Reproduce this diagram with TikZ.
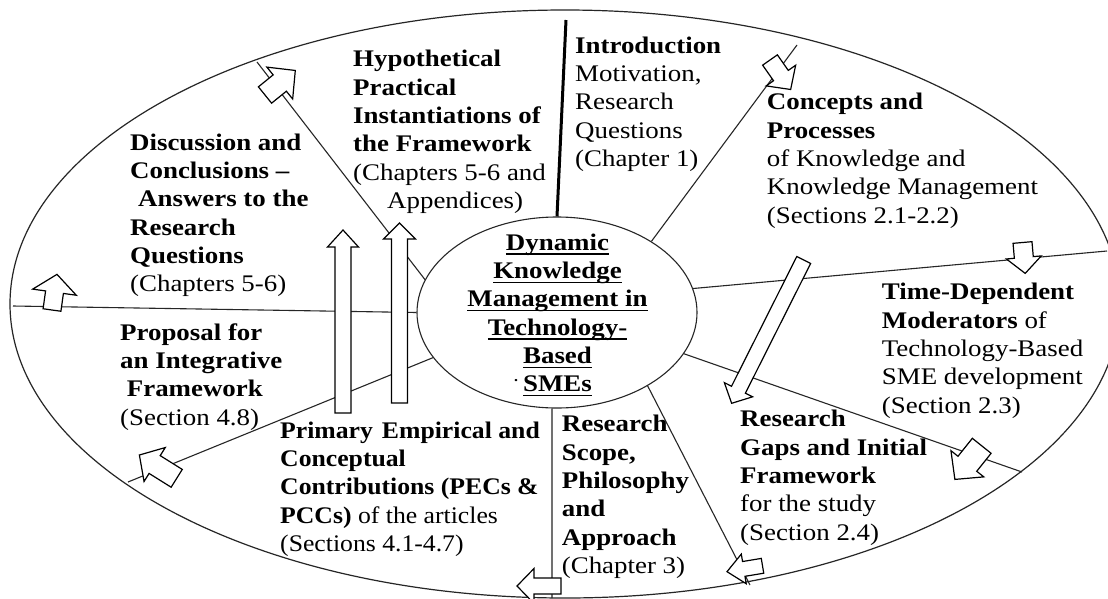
\documentclass[tikz,border=0pt]{standalone}
\usepackage{fontspec}
\setmainfont{Liberation Serif}[FakeStretch=1.13]
\usetikzlibrary{shapes.geometric}

% block arrow: tail point, direction, length, shaft width, head width, head length
\newcommand{\flowarrow}[6]{%
  \draw[flowtip, shift={#1}, rotate=#2]
    (0,-#4/2) -- ({#3-#6},-#4/2) -- ({#3-#6},-#5/2) -- (#3,0)
    -- ({#3-#6},#5/2) -- ({#3-#6},#4/2) -- (0,#4/2) -- cycle;}

% underlined word with a fixed rule below the baseline
\newcommand{\ulword}[1]{\setbox0\hbox{#1}\rlap{\rule[-4.5pt]{\wd0}{1.3pt}}\box0}

% text blocks are placed by the baseline of their last line
\tikzset{
  flowtip/.style={draw=black, fill=white, line width=1.2pt, line join=miter},
  spoke/.style={draw=black!85, line width=1.1pt},
  txt/.style={font=\fontsize{23.8}{28.33}\selectfont, align=left, anchor=base west,
              inner sep=0pt, text=black},
}

\begin{document}
\begin{tikzpicture}[x=1pt, y=-1pt]
  \fill[white] (0,0) rectangle (1108,598);
  \useasboundingbox (0,0) rectangle (1108,598);

  % outer cycle and central topic
  \node[draw=black!85, ellipse, line width=1.2pt, minimum width=1110pt,
        minimum height=588pt, inner sep=0pt] (rim) at (565,304) {};
  \node[draw=black!85, ellipse, line width=1.1pt, minimum width=280pt,
        minimum height=191pt, inner sep=0pt] (core) at (557,312.5) {};

  % outer ends of the spokes
  \coordinate (e0) at (566,20);
  \coordinate (e1) at (797,45);
  \coordinate (e2) at (1107,251);
  \coordinate (e3) at (1022,472);
  \coordinate (e4) at (750,585);
  \coordinate (e5) at (552,598);
  \coordinate (e6) at (128,482);
  \coordinate (e7) at (13,306);
  \coordinate (e8) at (257,62);

  % spokes dividing the sectors
  \draw[black, line width=3pt] (core.north) -- (e0);
  \draw[spoke] (core.37)   -- (e1);
  \draw[spoke] (core.10.7) -- (e2);
  \draw[spoke] (core.-18)  -- (e3);
  \draw[spoke] (core.-39)  -- (e4);
  \draw[spoke] (core.-93)  -- (e5);
  \draw[spoke] (core.200)  -- (e6);
  \draw[spoke] (core.180)  -- (e7);
  \draw[spoke] (core.166)  -- (e8);

  % clockwise flow arrows on the spokes
  \flowarrow{(770,60)}{-55}{36}{18}{36}{17}
  \flowarrow{(1022.5,242.5)}{-85}{31}{19}{35}{16}
  \flowarrow{(981.7,445.8)}{-128.6}{43}{24}{42}{20}
  \flowarrow{(762.5,565.8)}{-170.6}{36}{15}{30}{17}
  \flowarrow{(561,586)}{180}{44}{16}{35}{17}
  \flowarrow{(176.7,478.3)}{148}{44}{21}{40}{18}
  \flowarrow{(52,310)}{82}{36}{18}{44}{18}
  \flowarrow{(265,95)}{39}{39}{21}{41}{20}

  % long arrows
  \flowarrow{(343,413)}{90}{183}{16}{31}{17}
  \flowarrow{(399.5,403)}{90}{180}{16}{32}{16}
  \flowarrow{(803.7,260)}{-116.7}{160.4}{15.5}{31.6}{15.2}

  % central topic text
  \node[txt, align=center, anchor=base, font=\fontsize{23.8}{28.33}\selectfont\bfseries]
    (title) at (557.5,391.7)
    {\ulword{Dynamic}\\ \ulword{Knowledge}\\ \ulword{Management in}\\
     \ulword{Technology-}\\ \ulword{Based}\\
     \llap{\raisebox{10pt}{\fontsize{14}{14}\selectfont.}\hspace{5pt}}\ulword{SMEs}};

  % sector texts
  \node[txt] (hyp) at (353,208.4)
    {\textbf{Hypothetical}\\ \textbf{Practical}\\ \textbf{Instantiations of}\\
     \textbf{the Framework}\\ (Chapters 5-6 and\\ \hspace*{34pt}Appendices)};
  \node[txt] (intro) at (575,166.6)
    {\textbf{Introduction}\\ Motivation,\\ Research\\ Questions\\ (Chapter 1)};
  \node[txt] (concepts) at (766.7,223.3)
    {\textbf{Concepts and}\\ \textbf{Processes}\\ of Knowledge and\\
     Knowledge Management\\ (Sections 2.1-2.2)};
  \node[txt] (time) at (881.7,413.3)
    {\textbf{Time-Dependent}\\ \textbf{Moderators} of\\ Technology-Based\\
     SME development\\ (Section 2.3)};
  \node[txt] (gaps) at (740,540)
    {\textbf{Research}\\ \textbf{Gaps and Initial}\\ \textbf{Framework}\\
     for the study\\ (Section 2.4)};
  \node[txt] (scope) at (561.7,573.4)
    {\textbf{Research}\\ \textbf{Scope,}\\ \textbf{Philosophy}\\ \textbf{and}\\
     \textbf{Approach}\\ (Chapter 3)};
  \node[txt, font=\fontsize{23.8}{28.33}\selectfont\addfontfeature{FakeStretch=1.08}]
    (pecs) at (280,551.6)
    {\textbf{Primary\hspace{9pt}Empirical and}\\ \textbf{Conceptual}\\
     \textbf{Contributions (PECs \&}\\ \textbf{PCCs)} of the articles\\
     (Sections 4.1-4.7)};
  \node[txt] (proposal) at (120,425)
    {\textbf{Proposal for}\\ \textbf{an Integrative}\\
     \hspace*{6.7pt}\textbf{Framework}\\ (Section 4.8)};
  \node[txt] (discussion) at (130,291.7)
    {\textbf{Discussion and}\\ \textbf{Conclusions –}\\
     \hspace*{8pt}\textbf{Answers to the}\\ \textbf{Research}\\ \textbf{Questions}\\
     (Chapters 5-6)};
\end{tikzpicture}
\end{document}
